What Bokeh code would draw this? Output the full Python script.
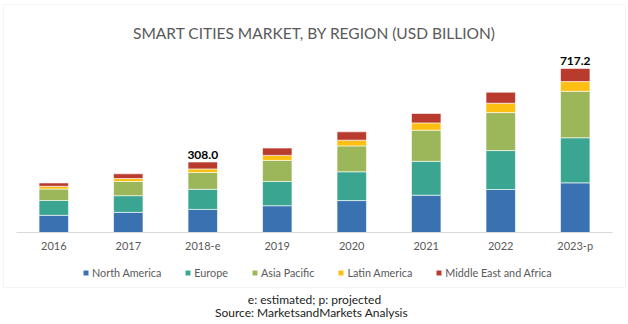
from bokeh.plotting import figure
from bokeh.models import FactorRange, Range1d, Label, Legend, LegendItem, BoxAnnotation, ColumnDataSource
from bokeh.core.properties import value
from bokeh.embed import file_html
from bokeh.resources import INLINE

years = ["2016", "2017", "2018-e", "2019", "2020", "2021", "2022", "2023-p"]
regions = ["North America", "Europe", "Asia Pacific", "Latin America", "Middle East and Africa"]
north_america = [75, 88, 101, 117, 139.5, 163, 188, 217]
europe = [65, 73, 88, 106, 126, 148, 170, 197]
asia_pacific = [50, 62, 73, 92, 113, 136, 166, 203]
latin_america = [12, 13, 16, 22, 25, 32, 41, 42.5]
middle_east_africa = [14.5, 20.5, 30, 32, 36.5, 41, 48, 57.7]
value_labels = ["", "", "308.0", "", "", "", "", "717.2"]
colors = ["#3A71B0", "#3AA590", "#9CB65A", "#FDC012", "#B93B2E"]

FONT = "Lato"
GREY = "#595959"

series = [north_america, europe, asia_pacific, latin_america, middle_east_africa]
data = {"years": years}
for name, vals in zip(regions, series):
    data[name] = vals
totals = [sum(v) for v in zip(*series)]
data["total"] = totals
data["label"] = value_labels
source = ColumnDataSource(data)

# The frame covers the whole canvas; the baseline sits 92 px above the bottom edge.
UNITS_PER_PX = 4.37
p = figure(width=628, height=324,
           x_range=FactorRange(*years, range_padding=0.43 / 8, range_padding_units="percent"),
           y_range=Range1d(-92 * UNITS_PER_PX, 232 * UNITS_PER_PX),
           output_backend="svg", toolbar_location=None,
           min_border_left=0, min_border_right=0, min_border_top=0, min_border_bottom=0)
p.outline_line_color = None
p.background_fill_color = "white"
p.border_fill_color = "white"
p.grid.visible = False
p.yaxis.visible = False

renderers = p.vbar_stack(regions, x="years", width=0.395, color=colors, source=source,
                         line_color="white", line_width=0.6)

ax = p.xaxis[0]
ax.fixed_location = 0
ax.bounds = (0, len(years))
ax.axis_line_color = "#D9D9D9"
ax.major_tick_line_color = None
ax.minor_tick_line_color = None
ax.major_tick_out = 0
ax.major_tick_in = 0
ax.major_label_standoff = 6
ax.major_label_text_font = FONT
ax.major_label_text_font_size = "11px"
ax.major_label_text_color = GREY

p.text(x="years", y="total", text="label", source=source, text_font=value(FONT),
       text_font_size="12px", text_font_style="bold", text_color="black",
       text_align="center", text_baseline="bottom", y_offset=-3)

border = BoxAnnotation(left=3, right=625, top=320, bottom=37,
                       left_units="screen", right_units="screen", top_units="screen", bottom_units="screen",
                       fill_alpha=0, line_color="#D9D9D9", line_width=1)
p.add_layout(border)

title = Label(x=314, y=292, x_units="screen", y_units="screen",
              text="SMART CITIES MARKET, BY REGION (USD BILLION)",
              text_font=FONT, text_font_size="15.5px", text_color=GREY,
              text_align="center", text_baseline="middle")
p.add_layout(title)

legend = Legend(items=[LegendItem(label=name, renderers=[r]) for name, r in zip(regions, renderers)],
                orientation="horizontal", location=(82, 45),
                glyph_width=7, glyph_height=7, label_standoff=3, spacing=23,
                padding=0, margin=0, border_line_color=None, background_fill_alpha=0,
                label_text_font=FONT, label_text_font_size="10.8px", label_text_color=GREY,
                label_height=7)
p.add_layout(legend)

note1 = Label(x=314, y=25, x_units="screen", y_units="screen", text="e: estimated; p: projected",
              text_font=FONT, text_font_size="12px", text_color="#222222",
              text_align="center", text_baseline="middle")
note2 = Label(x=311, y=12, x_units="screen", y_units="screen", text="Source: MarketsandMarkets Analysis",
              text_font=FONT, text_font_size="12px", text_color="#222222",
              text_align="center", text_baseline="middle")
p.add_layout(note1)
p.add_layout(note2)

open("out.html", "w").write(file_html(p, INLINE))
